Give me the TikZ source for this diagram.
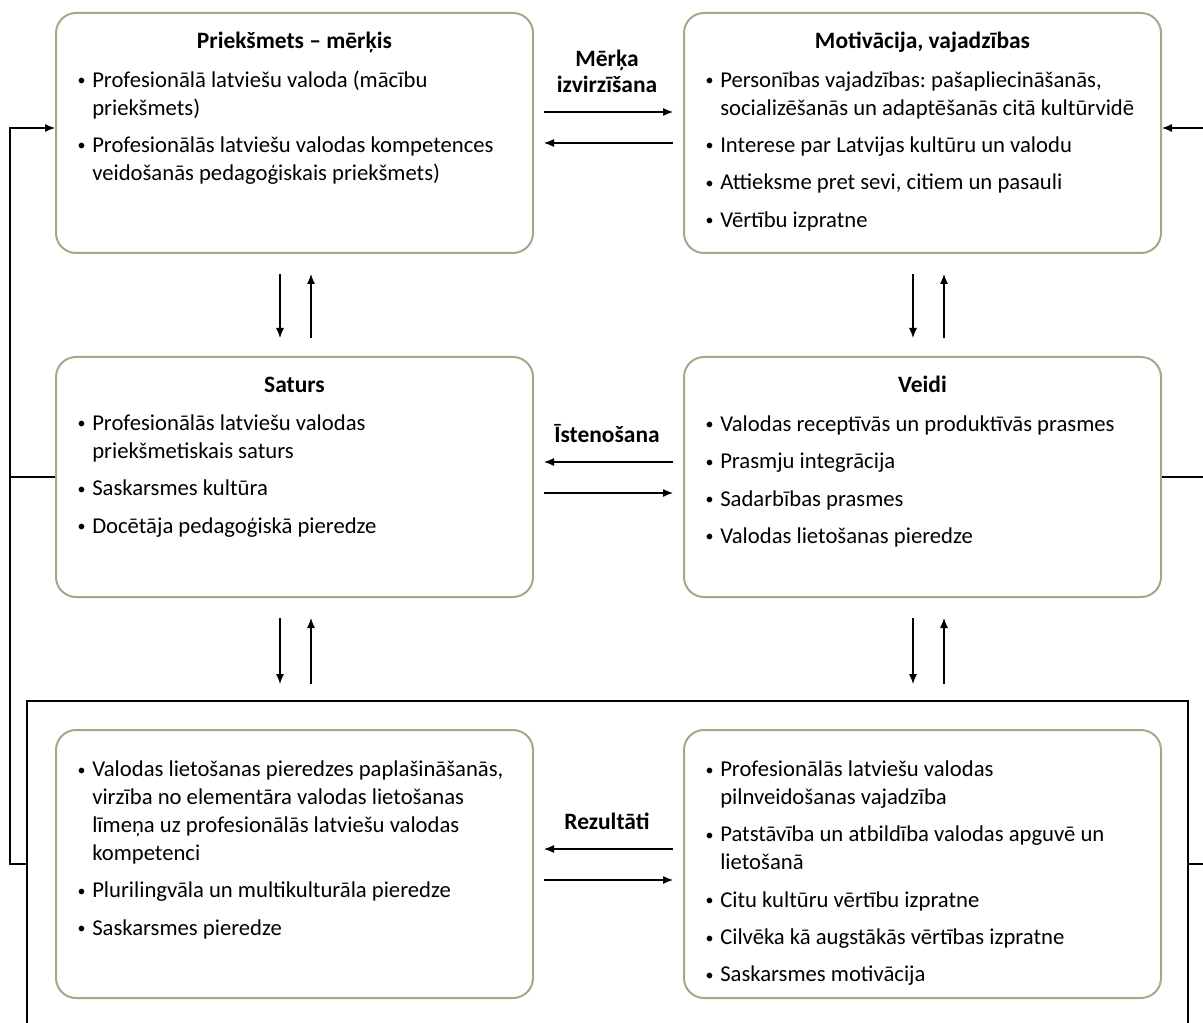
\documentclass[tikz,border=0pt]{standalone}
\usepackage{fontspec}
\setmainfont{Carlito}
\usetikzlibrary{arrows.meta,calc}

\definecolor{boxline}{RGB}{170,166,138}
\frenchspacing
\newcommand{\listfont}{\fontsize{17pt}{21pt}\selectfont\setlength{\parskip}{7pt}}
\newcommand{\bitem}[1]{\par\spaceskip=0pt\xspaceskip=0pt\hangindent=12pt\hangafter=1\noindent
    \makebox[12pt][l]{\hspace{1pt}\raisebox{1.2pt}{\fontsize{12pt}{12pt}\selectfont\textbullet}}#1\par}

\tikzset{
    box/.style={draw=boxline, line width=1.5pt, rounded corners=15pt, minimum width=357.75pt, minimum height=180pt, inner sep=0},
    bigbox/.style={box, minimum height=201pt},
    head/.style={font=\bfseries\fontsize{17.6pt}{19.5pt}\selectfont, anchor=base, inner sep=0},
    items/.style={anchor=north west, inner sep=0, text width=345pt, align=left, font=\listfont},
    arr/.style={-{Latex[length=7.5pt,width=6pt]}, line width=0.9pt},
    link/.style={line width=0.9pt}
}

\begin{document}
\begin{tikzpicture}[x=0.75pt,y=-0.75pt]
    \useasboundingbox (0,0) rectangle (1203,1023);

    \node[box] (merkis) at (294.5,133) {};
    \node[box] (motiv) at (922.5,133) {};
    \node[box] (saturs) at (294.5,477) {};
    \node[box] (veidi) at (922.5,477) {};
    \node[bigbox] (rezA) at (294.5,864) {};
    \node[bigbox] (rezB) at (922.5,864) {};

    \node[head] at ($(merkis.north)+(0,37)$) {Priekšmets – mērķis};
    \node[items] at ($(merkis.north west)+(21,37.5)$) {
        \bitem{Profesionālā latviešu valoda (mācību\newline priekšmets)}
        \bitem{Profesionālās latviešu valodas kompetences\newline veidošanās pedagoģiskais priekšmets)}
    };

    \node[head] at ($(motiv.north)+(0,37)$) {Motivācija, vajadzības};
    \node[items] at ($(motiv.north west)+(21,37.5)$) {
        \bitem{Personības vajadzības: pašapliecināšanās,\newline socializēšanās un adaptēšanās citā kultūrvidē}
        \bitem{Interese par Latvijas kultūru un valodu}
        \bitem{Attieksme pret sevi, citiem un pasauli}
        \bitem{Vērtību izpratne}
    };

    \node[head] at ($(saturs.north)+(0,37)$) {Saturs};
    \node[items] at ($(saturs.north west)+(21,37)$) {
        \bitem{Profesionālās latviešu valodas\newline priekšmetiskais saturs}
        \bitem{Saskarsmes kultūra}
        \bitem{Docētāja pedagoģiskā pieredze}
    };

    \node[head] at ($(veidi.north)+(0,37)$) {Veidi};
    \node[items] at ($(veidi.north west)+(21,38)$) {
        \bitem{Valodas receptīvās un produktīvās prasmes}
        \bitem{Prasmju integrācija}
        \bitem{Sadarbības prasmes}
        \bitem{Valodas lietošanas pieredze}
    };

    \node[items] at ($(rezA.north west)+(21,10)$) {
        \bitem{Valodas lietošanas pieredzes paplašināšanās,\newline virzība no elementāra valodas lietošanas\newline līmeņa uz profesionālās latviešu valodas\newline kompetenci}
        \bitem{Plurilingvāla un multikulturāla pieredze}
        \bitem{Saskarsmes pieredze}
    };

    \node[items] at ($(rezB.north west)+(21,10)$) {
        \bitem{Profesionālās latviešu valodas\newline pilnveidošanas vajadzība}
        \bitem{Patstāvība un atbildība valodas apguvē un\newline lietošanā}
        \bitem{Citu kultūru vērtību izpratne}
        \bitem{Cilvēka kā augstākās vērtības izpratne}
        \bitem{Saskarsmes motivācija}
    };

    \node[head, anchor=center, align=center] (merka) at (607,71) {Mērķa\\izvirzīšana};
    \node[head] (isten) at (607,442) {Īstenošana};
    \node[head] (rezult) at (607,829) {Rezultāti};

    \draw[arr, shorten <=7.5pt, shorten >=7.5pt] (merkis.east |- 0,112) -- (motiv.west |- 0,112);
    \draw[arr, shorten <=7.5pt, shorten >=7.5pt] (motiv.west |- 0,143) -- (merkis.east |- 0,143);
    \draw[arr, shorten <=7.5pt, shorten >=7.5pt] (veidi.west |- 0,462) -- (saturs.east |- 0,462);
    \draw[arr, shorten <=7.5pt, shorten >=7.5pt] (saturs.east |- 0,493) -- (veidi.west |- 0,493);
    \draw[arr, shorten <=7.5pt, shorten >=7.5pt] (rezB.west |- 0,849) -- (rezA.east |- 0,849);
    \draw[arr, shorten <=7.5pt, shorten >=7.5pt] (rezA.east |- 0,880) -- (rezB.west |- 0,880);

    \draw[arr] ($(merkis.south)+(-14.5,20)$) -- ($(saturs.north)+(-14.5,-18)$);
    \draw[arr] ($(saturs.north)+(16.5,-18)$) -- ($(merkis.south)+(16.5,20)$);
    \draw[arr] ($(motiv.south)+(-9.5,20)$) -- ($(veidi.north)+(-9.5,-18)$);
    \draw[arr] ($(veidi.north)+(21.5,-18)$) -- ($(motiv.south)+(21.5,20)$);
    \draw[arr] ($(saturs.south)+(-14.5,20)$) -- ($(saturs.south)+(-14.5,86)$);
    \draw[arr] ($(saturs.south)+(16.5,86)$) -- ($(saturs.south)+(16.5,20)$);
    \draw[arr] ($(veidi.south)+(-9.5,20)$) -- ($(veidi.south)+(-9.5,86)$);
    \draw[arr] ($(veidi.south)+(21.5,86)$) -- ($(veidi.south)+(21.5,20)$);

    \draw[link] (27,1023) |- (1188,701) -- (1188,1023);
    \coordinate (frameL) at (27,864);
    \coordinate (frameR) at (1188,864);
    \coordinate (fbL) at (10,128);
    \coordinate (fbR) at (1203,128);

    \draw[arr] (frameL) -| (fbL) -- (fbL -| merkis.west);
    \draw[link] (fbL |- saturs.west) -- (saturs.west);
    \draw[arr] (fbR) -- (fbR -| motiv.east);
    \draw[link] (veidi.east) -- (fbR |- veidi.east);
    \draw[link] (frameR) -- (fbR |- frameR);
\end{tikzpicture}
\end{document}
